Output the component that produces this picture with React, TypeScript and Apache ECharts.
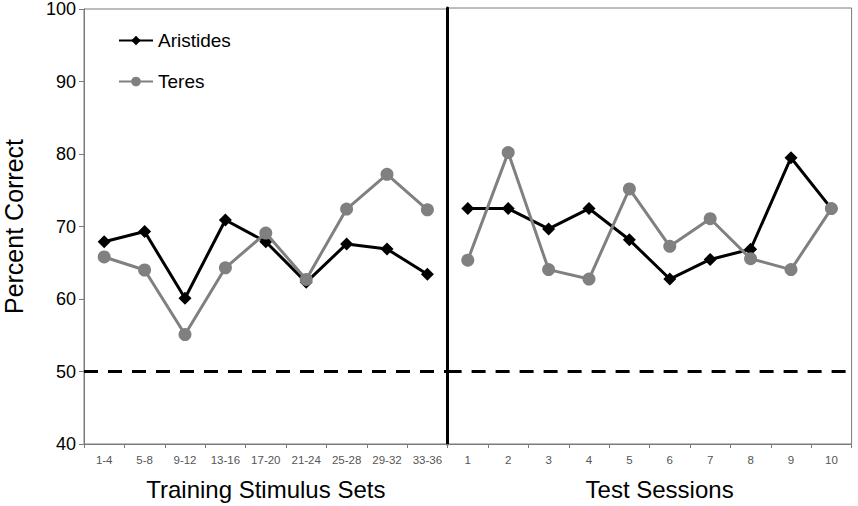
import React, { useEffect, useRef } from "react";
import * as echarts from "echarts";

const trainingSets = ["1-4", "5-8", "9-12", "13-16", "17-20", "21-24", "25-28", "29-32", "33-36"];
const testSessions = ["1", "2", "3", "4", "5", "6", "7", "8", "9", "10"];
const aristidesTraining = [67.9, 69.3, 60.1, 70.9, 67.9, 62.3, 67.6, 66.9, 63.4];
const teresTraining = [65.8, 64.0, 55.1, 64.3, 69.1, 62.7, 72.4, 77.2, 72.3];
const aristidesTest = [72.4, 72.4, 69.6, 72.4, 68.1, 62.7, 65.4, 66.8, 79.4, 72.4];
const teresTest = [65.3, 80.1, 64.0, 62.7, 75.1, 67.2, 71.0, 65.5, 64.0, 72.4];
const chanceLevel = 50;

const FONT = "'Liberation Sans', Arial, sans-serif";
const GRAY = "#808080";
const AXIS_GRAY = "#7a7a7a";

export default function App() {
  const ref = useRef<HTMLDivElement>(null);
  useEffect(() => {
    if (!ref.current) return;
    const chart = echarts.init(ref.current, null, { renderer: "svg" });
    const xAxisCommon = {
      type: "category",
      boundaryGap: true,
      axisLine: { show: true, lineStyle: { color: AXIS_GRAY, width: 1 } },
      axisTick: { show: true, length: 4, inside: false, lineStyle: { color: AXIS_GRAY } },
      axisLabel: { color: "#555", fontSize: 11.5, fontFamily: FONT, margin: 10 },
      nameLocation: "middle",
      nameGap: 33,
      nameTextStyle: { color: "#000", fontSize: 24, fontFamily: FONT },
    };
    const yAxisCommon = {
      type: "value",
      min: 40,
      max: 100,
      interval: 10,
      splitLine: { show: false },
    };
    const markLine = {
      silent: true,
      symbol: "none",
      label: { show: false },
      lineStyle: { color: "#000", width: 3, type: [14, 10] },
      data: [{ yAxis: chanceLevel }],
    };
    const aristStyle = {
      type: "line",
      name: "Aristides",
      symbol: "diamond",
      symbolSize: 13,
      lineStyle: { color: "#000", width: 3 },
      itemStyle: { color: "#000" },
      z: 2,
    };
    const teresStyle = {
      type: "line",
      name: "Teres",
      symbol: "circle",
      symbolSize: 13,
      lineStyle: { color: GRAY, width: 3 },
      itemStyle: { color: GRAY },
      z: 3,
    };
    chart.setOption({
      animation: false,
      backgroundColor: "#fff",
      textStyle: { fontFamily: FONT },
      grid: [
        { left: 84, top: 8, width: 363.6, height: 437, show: true, borderColor: AXIS_GRAY, borderWidth: 1, containLabel: false },
        { left: 447.6, top: 8, width: 404, height: 437, show: true, borderColor: AXIS_GRAY, borderWidth: 1, containLabel: false },
      ],
      legend: {
        orient: "vertical",
        left: 113,
        top: 26,
        itemWidth: 34,
        itemHeight: 12,
        itemGap: 22,
        data: ["Aristides", "Teres"],
        textStyle: { color: "#000", fontSize: 19, fontFamily: FONT },
      },
      xAxis: [
        { ...xAxisCommon, gridIndex: 0, data: trainingSets, name: "Training Stimulus Sets" },
        { ...xAxisCommon, gridIndex: 1, data: testSessions, name: "Test Sessions", nameTextStyle: { ...xAxisCommon.nameTextStyle, padding: [0, 0, 0, 20] } },
      ],
      yAxis: [
        {
          ...yAxisCommon,
          gridIndex: 0,
          axisLine: { show: true, lineStyle: { color: AXIS_GRAY, width: 1 } },
          axisTick: { show: true, length: 5, lineStyle: { color: AXIS_GRAY } },
          axisLabel: { color: "#000", fontSize: 18, fontFamily: FONT, margin: 8 },
          name: "Percent Correct",
          nameLocation: "middle",
          nameGap: 58,
          nameTextStyle: { color: "#000", fontSize: 25, fontFamily: FONT },
        },
        {
          ...yAxisCommon,
          gridIndex: 1,
          axisLine: { show: true, lineStyle: { color: "#000", width: 3 } },
          axisTick: { show: false },
          axisLabel: { show: false },
        },
      ],
      series: [
        { ...aristStyle, xAxisIndex: 0, yAxisIndex: 0, data: aristidesTraining, markLine },
        { ...teresStyle, xAxisIndex: 0, yAxisIndex: 0, data: teresTraining },
        { ...aristStyle, xAxisIndex: 1, yAxisIndex: 1, data: aristidesTest, markLine },
        { ...teresStyle, xAxisIndex: 1, yAxisIndex: 1, data: teresTest },
      ],
    });
    return () => chart.dispose();
  }, []);
  return (
    <div
      ref={ref}
      style={{ position: "fixed", left: 0, top: 0, width: 858, height: 506, background: "#fff" }}
    />
  );
}
